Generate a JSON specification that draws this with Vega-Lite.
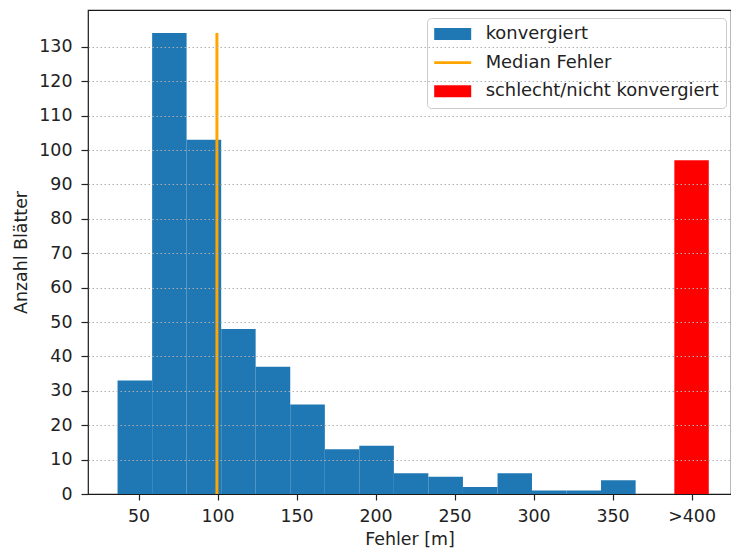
{
  "$schema": "https://vega.github.io/schema/vega-lite/v6.json",
  "autosize": {"type": "none"},
  "width": 643,
  "height": 484,
  "padding": {"left": 88, "top": 10, "right": 0, "bottom": 58},
  "background": "white",
  "config": {
    "font": "DejaVu Sans",
    "view": {"stroke": "#1a1a1a", "strokeWidth": 1.2},
    "axis": {
      "labelFont": "DejaVu Sans",
      "labelFontSize": 17.4,
      "labelColor": "#222222",
      "titleFont": "DejaVu Sans",
      "titleFontSize": 17.4,
      "titleFontWeight": "normal",
      "titleColor": "#222222",
      "tickColor": "#222222",
      "tickWidth": 1.2,
      "domain": false,
      "labelOverlap": false
    }
  },
  "datasets": {
    "histogramm": [
      {"von": 36.7, "bis": 58.6, "anzahl": 33, "gruppe": "konvergiert"},
      {"von": 58.6, "bis": 80.4, "anzahl": 134, "gruppe": "konvergiert"},
      {"von": 80.4, "bis": 102.3, "anzahl": 103, "gruppe": "konvergiert"},
      {"von": 102.3, "bis": 124.1, "anzahl": 48, "gruppe": "konvergiert"},
      {"von": 124.1, "bis": 146.0, "anzahl": 37, "gruppe": "konvergiert"},
      {"von": 146.0, "bis": 167.9, "anzahl": 26, "gruppe": "konvergiert"},
      {"von": 167.9, "bis": 189.7, "anzahl": 13, "gruppe": "konvergiert"},
      {"von": 189.7, "bis": 211.6, "anzahl": 14, "gruppe": "konvergiert"},
      {"von": 211.6, "bis": 233.4, "anzahl": 6, "gruppe": "konvergiert"},
      {"von": 233.4, "bis": 255.3, "anzahl": 5, "gruppe": "konvergiert"},
      {"von": 255.3, "bis": 277.2, "anzahl": 2, "gruppe": "konvergiert"},
      {"von": 277.2, "bis": 299.0, "anzahl": 6, "gruppe": "konvergiert"},
      {"von": 299.0, "bis": 320.9, "anzahl": 1, "gruppe": "konvergiert"},
      {"von": 320.9, "bis": 342.7, "anzahl": 1, "gruppe": "konvergiert"},
      {"von": 342.7, "bis": 364.6, "anzahl": 4, "gruppe": "konvergiert"},
      {"von": 389.1, "bis": 410.9, "anzahl": 97, "gruppe": "schlecht/nicht konvergiert"}
    ],
    "median": [
      {"von": 99.6, "anzahl": 134, "basis": 0, "gruppe": "Median Fehler"}
    ]
  },
  "encoding": {
    "x": {
      "field": "von",
      "type": "quantitative",
      "scale": {"domain": [18, 424.96], "nice": false, "zero": false, "padding": 0},
      "axis": {
        "title": "Fehler [m]",
        "values": [50, 100, 150, 200, 250, 300, 350, 400],
        "labelExpr": "datum.value == 400 ? '>400' : datum.label",
        "grid": false,
        "tickSize": 6,
        "labelPadding": 7,
        "titlePadding": 6.5,
        "labelFlush": false,
        "labelOverlap": false
      }
    },
    "y": {
      "field": "anzahl",
      "type": "quantitative",
      "scale": {"domain": [0, 140.7], "nice": false, "zero": true},
      "axis": {
        "title": "Anzahl Blätter",
        "values": [0, 10, 20, 30, 40, 50, 60, 70, 80, 90, 100, 110, 120, 130],
        "grid": true,
        "gridColor": "#b0b0b0",
        "gridDash": [1.5, 2.5],
        "gridWidth": 1,
        "gridOpacity": {"condition": {"test": "datum.value === 0", "value": 0}, "value": 1},
        "tickSize": 7,
        "labelPadding": 9,
        "titlePadding": 8,
        "labelOverlap": false,
        "zindex": 1
      }
    },
    "color": {
      "field": "gruppe",
      "type": "nominal",
      "scale": {
        "domain": ["konvergiert", "Median Fehler", "schlecht/nicht konvergiert"],
        "range": ["#1f77b4", "#ffa500", "#ff0000"]
      },
      "legend": {
        "title": null,
        "orient": "none",
        "legendX": 339,
        "legendY": 8,
        "labelFont": "DejaVu Sans",
        "labelFontSize": 17.9,
        "labelColor": "#222222",
        "labelLimit": 0,
        "padding": 7,
        "rowPadding": 9.6,
        "strokeColor": "#cccccc",
        "fillColor": "rgba(255,255,255,0.8)",
        "cornerRadius": 4,
        "symbolSize": 256,
        "symbolOffset": 9.75,
        "symbolStrokeWidth": 0,
        "labelOffset": 24,
        "encode": {
          "symbols": {
            "update": {
              "shape": {"signal": "datum.value === 'Median Fehler' ? 'M-2.3125,-0.17H2.3125V0.17H-2.3125Z' : 'M-2.3125,-0.75H2.3125V0.75H-2.3125Z'"},
              "fill": {"signal": "scale('color', datum.value)"},
              "opacity": {"value": 1},
              "strokeWidth": {"value": 0}
            }
          }
        }
      }
    }
  },
  "layer": [
    {
      "data": {"name": "histogramm"},
      "mark": {"type": "bar", "orient": "vertical"},
      "encoding": {
        "x2": {"field": "bis"}
      }
    },
    {
      "data": {"name": "median"},
      "mark": {"type": "rule", "strokeWidth": 3},
      "encoding": {
        "y2": {"field": "basis"}
      }
    }
  ]
}
